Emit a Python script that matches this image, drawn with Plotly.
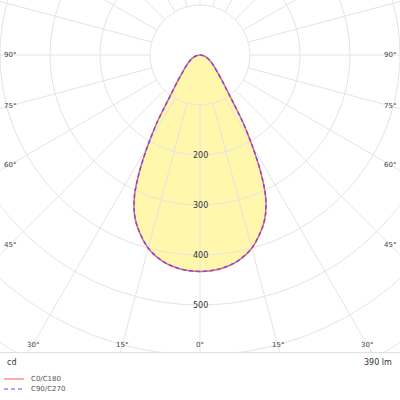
import numpy as np
import plotly.graph_objects as go

# Luminous intensity (cd) vs gamma angle (deg), symmetric about 0
gamma = [0, 5, 10, 15, 20, 22.5, 25, 27.5, 30, 32.5, 35, 37.5, 40, 45, 50, 55, 60, 70, 80, 90]
c0_c180 = [433, 430, 420, 400, 366, 343, 310, 262, 208, 160, 115, 88, 72, 50, 38, 30, 24, 14, 6, 0]
c90_c270 = [433, 430, 420, 400, 366, 343, 310, 262, 208, 160, 115, 88, 72, 50, 38, 30, 24, 14, 6, 0]

grid_radii = [100, 200, 300, 400, 500, 600, 700]
radius_labels = [200, 300, 400, 500]
spoke_angles = list(range(0, 360, 15))
edge_labels_side = [90, 75, 60, 45]
edge_labels_bottom = [30, 15, 0]
flux_text = "390 lm"
unit_text = "cd"
series_names = ["C0/C180", "C90/C270"]

FONT = "DejaVu Sans"
GRID = "#e4e4e4"


def full_curve(vals):
    g = np.array(gamma, dtype=float)
    v = np.array(vals, dtype=float)
    ang = np.concatenate([-g[::-1], g[1:]])
    r = np.concatenate([v[::-1], v[1:]])
    th = np.radians(ang)
    return r * np.sin(th), -r * np.cos(th)


fig = go.Figure()

# filled area
xf, yf = full_curve(c0_c180)
fig.add_trace(go.Scatter(x=xf, y=yf, mode="lines",
                         line=dict(width=0, shape="spline", smoothing=0.8),
                         fill="toself", fillcolor="rgba(255,240,90,0.5)",
                         hoverinfo="skip", showlegend=False))

# grid circles
t = np.linspace(0, 2 * np.pi, 361)
for r in grid_radii:
    fig.add_trace(go.Scatter(x=r * np.cos(t), y=r * np.sin(t), mode="lines",
                             line=dict(color=GRID, width=1), hoverinfo="skip",
                             showlegend=False))
# spokes
for a in spoke_angles:
    th = np.radians(a)
    fig.add_trace(go.Scatter(x=[100 * np.sin(th), 1000 * np.sin(th)],
                             y=[-100 * np.cos(th), -1000 * np.cos(th)],
                             mode="lines", line=dict(color=GRID, width=1),
                             hoverinfo="skip", showlegend=False))

# curves
x1, y1 = full_curve(c0_c180)
fig.add_trace(go.Scatter(x=x1, y=y1, mode="lines", name=series_names[0],
                         line=dict(color="rgb(255,95,80)", width=1.5,
                                   shape="spline", smoothing=0.8),
                         showlegend=False))
x2, y2 = full_curve(c90_c270)
fig.add_trace(go.Scatter(x=x2, y=y2, mode="lines", name=series_names[1],
                         line=dict(color="rgb(95,85,255)", width=1.5, dash="4px,3px",
                                   shape="spline", smoothing=0.8),
                         showlegend=False))

# radius labels
for r in radius_labels:
    fig.add_annotation(x=0, y=-r, text=str(r), showarrow=False,
                       font=dict(family=FONT, size=8, color="#333"),
                       xanchor="center", yanchor="middle")

X0, X1 = -400, 400
Y0, Y1 = -594, 110
LX = 380   # label column for side angle labels
LY = -580  # label row for bottom angle labels

# side angle labels (centered on the spoke near the edges)
for a in edge_labels_side:
    th = np.radians(a)
    yv = -LX * np.cos(th) / np.sin(th)
    for s in (-1, 1):
        fig.add_annotation(x=s * LX, y=yv, text=f"{a}°", showarrow=False,
                           font=dict(family=FONT, size=7, color="#444"),
                           xanchor="center", yanchor="middle")
# bottom angle labels
for a in edge_labels_bottom:
    th = np.radians(a)
    xv = -LY * np.tan(th)
    for s in ([1] if a == 0 else [-1, 1]):
        fig.add_annotation(x=s * xv, y=LY, text=f"{a}°", showarrow=False,
                           font=dict(family=FONT, size=7, color="#444"),
                           xanchor="center", yanchor="middle")

# footer texts
fig.add_annotation(x=0.012, y=-0.012, xref="paper", yref="paper", text=unit_text,
                   showarrow=False, xanchor="left", yanchor="top",
                   font=dict(family=FONT, size=8, color="#333"))
fig.add_annotation(x=0.985, y=-0.012, xref="paper", yref="paper", text=flux_text,
                   showarrow=False, xanchor="right", yanchor="top",
                   font=dict(family=FONT, size=8, color="#333"))

# legend (manual)
leg_y = [379, 389]
leg_col = ["rgb(255,140,140)", "rgb(140,140,255)"]
leg_dash = ["solid", "4px,3px"]
for i, nm in enumerate(series_names):
    yp = 1 - leg_y[i] / 352.0
    fig.add_shape(type="line", xref="paper", yref="paper",
                  x0=4 / 400, x1=24 / 400, y0=yp, y1=yp,
                  line=dict(color=leg_col[i], width=1.5, dash=leg_dash[i]))
    fig.add_annotation(x=29 / 400, y=yp, xref="paper", yref="paper", text=nm,
                       showarrow=False, xanchor="left", yanchor="middle",
                       font=dict(family=FONT, size=7, color="#555"))

fig.update_xaxes(range=[X0, X1], showgrid=False, zeroline=False, showticklabels=False,
                 showline=True, linecolor="#e0e0e0", mirror=True, fixedrange=True)
fig.update_yaxes(range=[Y0, Y1], showgrid=False, zeroline=False, showticklabels=False,
                 showline=True, linecolor="#e0e0e0", mirror=True, fixedrange=True)
fig.update_layout(width=400, height=400, margin=dict(l=0, r=0, t=0, b=48),
                  plot_bgcolor="white", paper_bgcolor="white")

fig.write_html("out.html", config={"displayModeBar": False},
               post_script="document.body.style.margin='0';document.body.style.overflow='hidden';")
